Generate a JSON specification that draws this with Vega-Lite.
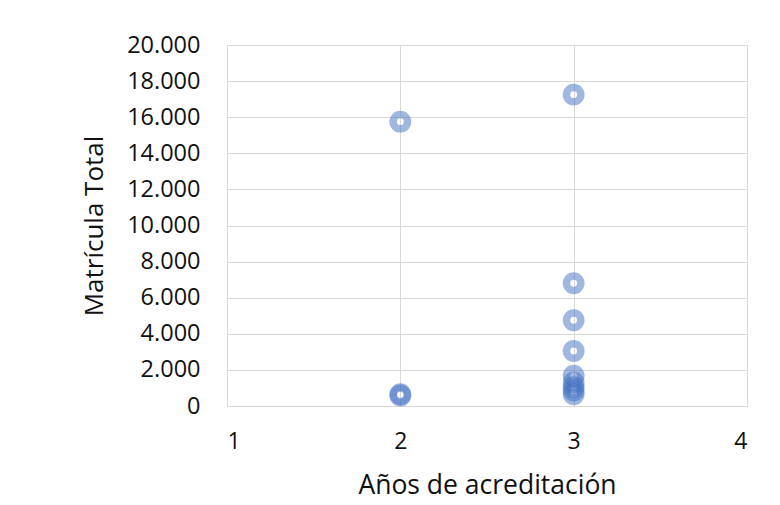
{
  "$schema": "https://vega.github.io/schema/vega-lite/v6.json",
  "width": 520,
  "height": 361,
  "autosize": {"type": "none"},
  "padding": {"left": 227, "top": 45, "right": 33, "bottom": 99},
  "background": "white",
  "data": {
    "values": [
      {"anos": 2, "matricula": 15750},
      {"anos": 2, "matricula": 650},
      {"anos": 2, "matricula": 580},
      {"anos": 3, "matricula": 17250},
      {"anos": 3, "matricula": 6800},
      {"anos": 3, "matricula": 4750},
      {"anos": 3, "matricula": 3050},
      {"anos": 3, "matricula": 1680},
      {"anos": 3, "matricula": 1300},
      {"anos": 3, "matricula": 1050},
      {"anos": 3, "matricula": 850},
      {"anos": 3, "matricula": 650}
    ]
  },
  "mark": {
    "type": "point",
    "shape": "circle",
    "filled": false,
    "size": 205,
    "strokeWidth": 7.5,
    "stroke": "#4472C4",
    "strokeOpacity": 0.72,
    "clip": false
  },
  "encoding": {
    "x": {
      "field": "anos",
      "type": "quantitative",
      "scale": {"domain": [1, 4], "nice": false, "zero": false},
      "axis": {
        "title": "Años de acreditación",
        "values": [1, 2, 3, 4],
        "format": "d",
        "ticks": false,
        "domain": false,
        "grid": true,
        "gridColor": "#d9d9d9",
        "labelPadding": 24,
        "labelFontSize": 23,
        "labelColor": "#111111",
        "labelFont": "Open Sans",
        "titleFont": "Open Sans",
        "titleFontSize": 26.5,
        "titleFontWeight": "normal",
        "titleColor": "#111111",
        "titlePadding": 19
      }
    },
    "y": {
      "field": "matricula",
      "type": "quantitative",
      "scale": {"domain": [0, 20000], "nice": false},
      "axis": {
        "title": "Matrícula Total",
        "values": [0, 2000, 4000, 6000, 8000, 10000, 12000, 14000, 16000, 18000, 20000],
        "labelExpr": "replace(format(datum.value, ',d'), ',', '.')",
        "ticks": false,
        "domain": false,
        "grid": true,
        "gridColor": "#d9d9d9",
        "labelPadding": 27,
        "labelFontSize": 23.5,
        "labelColor": "#111111",
        "labelFont": "Open Sans",
        "titleFont": "Open Sans",
        "titleFontSize": 26,
        "titleFontWeight": "normal",
        "titleColor": "#111111",
        "titlePadding": 19
      }
    }
  },
  "config": {
    "view": {"stroke": "#d9d9d9"}
  }
}
